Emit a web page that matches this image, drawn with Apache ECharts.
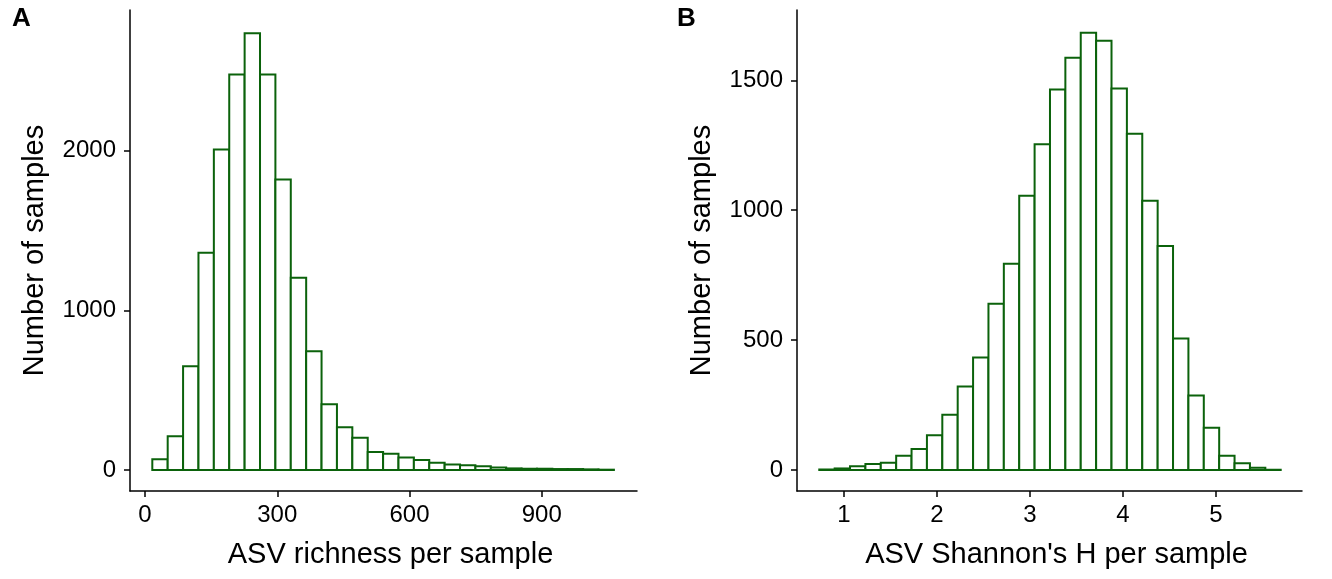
<!DOCTYPE html>
<html>
<head>
<meta charset="utf-8">
<script src="https://cdn.jsdelivr.net/npm/echarts@6/dist/echarts.min.js"></script>
<style>
html,body{margin:0;padding:0;background:#fff;}
#c{width:1332px;height:579px;}
</style>
</head>
<body>
<div id="c"></div>
<script>
// Panel A: ASV richness histogram (30 bins)
const richBinStart = 16.6;
const richBinWidth = 34.9;
const richCounts = [68, 212, 650, 1360, 2008, 2477, 2735, 2477, 1819, 1204,
  744, 412, 267, 202, 112, 102, 79, 62, 46, 35,
  29, 23, 15, 10, 8, 8, 6, 6, 4, 2];
const richXTicks = [0, 300, 600, 900];
const richYTicks = [0, 1000, 2000];

// Panel B: Shannon's H histogram (30 bins)
const shanBinStart = 0.734;
const shanBinWidth = 0.1654;
const shanCounts = [2, 6, 14, 23, 28, 55, 81, 134, 213, 321,
  433, 640, 794, 1056, 1254, 1465, 1587, 1683, 1652, 1468,
  1294, 1036, 862, 506, 287, 163, 55, 26, 9, 1];
const shanXTicks = [1, 2, 3, 4, 5];
const shanYTicks = [0, 500, 1000, 1500];

const xTitles = ['ASV richness per sample', "ASV Shannon's H per sample"];
const yTitle = 'Number of samples';
const panelLabels = ['A', 'B'];

function binsToData(start, width, counts) {
  return counts.map((c, i) => [start + i * width, start + (i + 1) * width, c]);
}

const FONT = 'Liberation Sans, Arial, sans-serif';
const STROKE = '#0b620b';

const chart = echarts.init(document.getElementById('c'), null, {renderer: 'canvas'});

function plain(v) { return String(v); }

function xAxis(gridIndex, min, max, ticks, title) {
  return {
    type: 'value', gridIndex, min, max,
    name: title, nameLocation: 'middle', nameGap: 49,
    nameTextStyle: {color: '#000', fontSize: 29, fontFamily: FONT, padding: [0, 0, 0, 14]},
    axisLine: {show: true, onZero: false, lineStyle: {color: '#000', width: 1.5}},
    axisTick: {show: true, length: 6, lineStyle: {color: '#000', width: 1.5}, customValues: ticks},
    axisLabel: {color: '#000', fontSize: 24, fontFamily: FONT, margin: 12, customValues: ticks, formatter: plain},
    splitLine: {show: false}
  };
}
function yAxis(gridIndex, min, max, ticks, title) {
  return {
    type: 'value', gridIndex, min, max,
    name: title, nameLocation: 'middle', nameGap: 81,
    nameTextStyle: {color: '#000', fontSize: 29, fontFamily: FONT},
    axisLine: {show: true, onZero: false, lineStyle: {color: '#000', width: 1.5}},
    axisTick: {show: true, length: 6, lineStyle: {color: '#000', width: 1.5}, customValues: ticks},
    axisLabel: {color: '#000', fontSize: 24, fontFamily: FONT, margin: 14, customValues: ticks, formatter: plain},
    splitLine: {show: false}
  };
}

function renderBin(params, api) {
  const x0 = api.value(0), x1 = api.value(1), y = api.value(2);
  const p0 = api.coord([x0, y]);
  const p1 = api.coord([x1, 0]);
  return {
    type: 'rect',
    shape: {x: p0[0], y: p0[1], width: p1[0] - p0[0], height: p1[1] - p0[1]},
    style: {fill: '#ffffff', stroke: STROKE, lineWidth: 2}
  };
}

chart.setOption({
  animation: false,
  backgroundColor: '#fff',
  grid: [
    {left: 130, top: 10, width: 507, height: 481},
    {left: 797, top: 10, width: 505, height: 481}
  ],
  xAxis: [
    xAxis(0, -34, 1116, richXTicks, xTitles[0]),
    xAxis(1, 0.4946, 5.925, shanXTicks, xTitles[1])
  ],
  yAxis: [
    yAxis(0, -131.5, 2881, richYTicks, yTitle),
    yAxis(1, -80.8, 1770.6, shanYTicks, yTitle)
  ],
  graphic: [
    {type: 'text', left: 12, top: 6, style: {text: panelLabels[0], font: 'bold 26px ' + FONT, fill: '#000'}},
    {type: 'text', left: 677, top: 6, style: {text: panelLabels[1], font: 'bold 26px ' + FONT, fill: '#000'}}
  ],
  series: [
    {type: 'custom', xAxisIndex: 0, yAxisIndex: 0, renderItem: renderBin,
     data: binsToData(richBinStart, richBinWidth, richCounts), encode: {x: [0, 1], y: 2}},
    {type: 'custom', xAxisIndex: 1, yAxisIndex: 1, renderItem: renderBin,
     data: binsToData(shanBinStart, shanBinWidth, shanCounts), encode: {x: [0, 1], y: 2}}
  ]
});
</script>
</body>
</html>
